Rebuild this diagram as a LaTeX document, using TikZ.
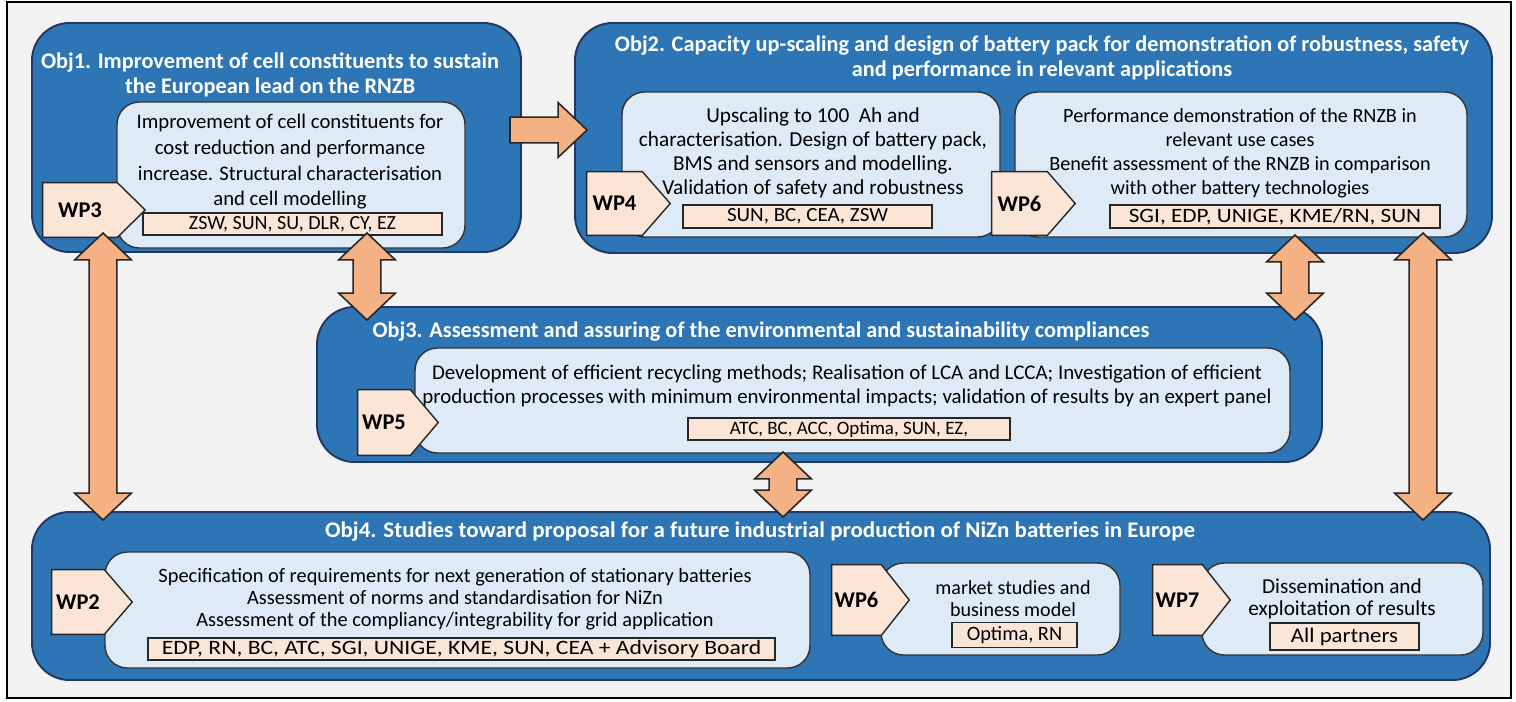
\documentclass[tikz,border=0pt]{standalone}
\usepackage{fontspec}
\setmainfont{Carlito}
\usetikzlibrary{calc,fit}
\definecolor{pagebg}{RGB}{242,242,242}
\definecolor{objblue}{RGB}{46,117,182}
\definecolor{objline}{RGB}{31,56,100}
\definecolor{innerblue}{RGB}{222,235,247}
\definecolor{peach}{RGB}{251,229,214}
\definecolor{arrowfill}{RGB}{244,177,131}
% one pixel of the sketch
\newcommand\pxu{0.5669pt}
% font size and line spacing, optionally stretched
\newcommand\fs[2]{\fontsize{#1}{#2}\selectfont}
\newcommand\fsx[3]{\fontsize{#2}{#3}\selectfont\addfontfeatures{FakeStretch=#1}}
% pentagon tag: name, top left, bottom right, label
\newcommand\wptag[4]{%
  \node[tagbody, fit={#2 #3}] (#1) {};
  \draw[tagline] (#1.north west) -- (#1.north east) -- ([xshift=28*\pxu]#1.east)
    -- (#1.south east) -- (#1.south west) -- cycle;
  \node[wplabel] (#1-l) at (#1.center) {#4};}
% vertical double block arrow: top tip, bottom tip
\newcommand\dblarrow[2]{%
  \draw[blockarrow] let \p1=#1, \p2=#2 in
    (\p1) -- (\x1+28.5*\pxu,\y1-27*\pxu) -- (\x1+14*\pxu,\y1-27*\pxu)
    -- (\x2+14*\pxu,\y2+27*\pxu) -- (\x2+28.5*\pxu,\y2+27*\pxu) -- (\p2)
    -- (\x2-28.5*\pxu,\y2+27*\pxu) -- (\x2-14*\pxu,\y2+27*\pxu)
    -- (\x1-14*\pxu,\y1-27*\pxu) -- (\x1-28.5*\pxu,\y1-27*\pxu) -- cycle;}
% horizontal block arrow: tail, tip
\newcommand\sglarrow[2]{%
  \draw[blockarrow] let \p1=#1, \p2=#2 in
    (\x1,\y1+13*\pxu) -- (\x2-29*\pxu,\y1+13*\pxu) -- (\x2-29*\pxu,\y1+27.5*\pxu)
    -- (\p2) -- (\x2-29*\pxu,\y2-27.5*\pxu) -- (\x2-29*\pxu,\y2-13*\pxu)
    -- (\x1,\y1-13*\pxu) -- cycle;}
\begin{document}
\begin{tikzpicture}[x=0.02cm, y=-0.02cm,
  objbox/.style={fill=objblue, draw=objline, line width=1.1pt, rounded corners=0.75cm, inner sep=0pt},
  innerbox/.style={fill=innerblue, draw=black!80, line width=0.8pt, rounded corners=0.45cm, inner sep=0pt},
  partner/.style={fill=peach, draw=black!85, line width=0.8pt, inner sep=0pt, font=\fs{11.4}{12}},
  tagbody/.style={inner sep=0pt},
  tagline/.style={fill=peach, draw=black!85, line width=0.8pt},
  objtitle/.style={text=white, font=\bfseries\fs{12.7}{14.2}, align=center},
  body/.style={font=\fs{11.8}{14.6}, align=center},
  wplabel/.style={font=\bfseries\fs{12.8}{13}},
  blockarrow/.style={fill=arrowfill, draw=black!85, line width=0.9pt}]
  \useasboundingbox (0,0) rectangle (1516,701);
  \fill[white] (0,0) rectangle (1516,701);
  \draw[fill=pagebg, line width=0.8pt] (7,2) rectangle (1511,698);

  % Obj1
  \node[objbox, fit={(32,23) (521,252)}] (obj1) {};
  \node[objtitle] (obj1-t) at (270,75) {Obj1. Improvement of cell constituents to sustain\\the European lead on the RNZB};
  \node[innerbox, fit={(117,102) (465,248)}] (wp3-box) {};
  \node[body] (wp3-txt) at (290,162) {Improvement of cell constituents for\\cost reduction and performance\\increase. Structural characterisation\\and cell modelling};
  \node[partner, minimum width=5.98cm, minimum height=0.44cm] (wp3-p) at (292.5,224) {ZSW, SUN, SU, DLR, CY, EZ};
  \wptag{wp3}{(43,183)}{(117,237)}{WP3}

  % Obj2
  \node[objbox, fit={(575,23) (1492,253)}] (obj2) {};
  \node[objtitle] (obj2-t) at (1042,58) {Obj2. Capacity up-scaling and design of battery pack for demonstration of robustness, safety\\and performance in relevant applications};
  \node[innerbox, fit={(622,92) (1000,237)}] (wp4-box) {};
  \node[body, font=\fs{12.1}{13.6}] (wp4-txt) at (813,153) {Upscaling to 100~ Ah and\\characterisation. Design of battery pack,\\BMS and sensors and modelling.\\Validation of safety and robustness};
  \node[partner, minimum width=4.98cm, minimum height=0.46cm, font=\fsx{1.05}{11.4}{12}] (wp4-p) at (807.5,216.5) {SUN, BC, CEA, ZSW};
  \wptag{wp4}{(587,172)}{(642,235)}{WP4}
  \node[innerbox, fit={(1015,92) (1467,237)}] (wp6-box) {};
  \node[body, font=\fs{11.5}{13.6}] (wp6-txt) at (1240,153) {Performance demonstration of the RNZB in\\relevant use cases\\Benefit assessment of the RNZB in comparison\\with other battery technologies};
  \node[partner, minimum width=6.6cm, minimum height=0.46cm, font=\fsx{1.14}{11.6}{12}] (wp6-p) at (1275,216.5) {SGI, EDP, UNIGE, KME/RN, SUN};
  \wptag{wp6}{(992,172)}{(1047,235)}{WP6}

  % Obj3
  \node[objbox, fit={(317,307) (1322,462)}] (obj3) {};
  \node[objtitle] (obj3-t) at (761,332) {Obj3. Assessment and assuring of the environmental and sustainability compliances};
  \node[innerbox, fit={(415,348) (1290,453)}] (wp5-box) {};
  \node[body, font=\fs{11.9}{13.6}] (wp5-txt) at (847,386) {Development of efficient recycling methods; Realisation of LCA and LCCA; Investigation of efficient\\production processes with minimum environmental impacts; validation of results by an expert panel};
  \node[partner, minimum width=6.44cm, minimum height=0.44cm, font=\fs{10.8}{12}] (wp5-p) at (849,429) {ATC, BC, ACC, Optima, SUN, EZ,};
  \wptag{wp5}{(358,390)}{(410,455)}{WP5}

  % Obj4
  \node[objbox, fit={(32,512) (1490,680)}] (obj4) {};
  \node[objtitle, font=\bfseries\fsx{1.03}{12.7}{14.2}] (obj4-t) at (760,532) {Obj4. Studies toward proposal for a future industrial production of NiZn batteries in Europe};
  \node[innerbox, fit={(105,552) (810,668)}] (wp2-box) {};
  \node[body, font=\fs{11.6}{12.6}] (wp2-txt) at (455,599) {Specification of requirements for next generation of stationary batteries\\Assessment of norms and standardisation for NiZn\\Assessment of the compliancy/integrability for grid application};
  \node[partner, minimum width=12.54cm, minimum height=0.44cm, font=\fsx{1.16}{11.6}{12}] (wp2-p) at (461.5,649) {EDP, RN, BC, ATC, SGI, UNIGE, KME, SUN, CEA + Advisory Board};
  \wptag{wp2}{(52,570)}{(104,634)}{WP2}
  \node[innerbox, fit={(881,563) (1120,655)}] (wp6b-box) {};
  \node[body, font=\fs{11.4}{12.6}] (wp6b-txt) at (1013,599) {market studies and\\business model};
  \node[partner, minimum width=2.5cm, minimum height=0.5cm, font=\fs{11.6}{12}] (wp6b-p) at (1014.5,635) {Optima, RN};
  \wptag{wp6b}{(832,565)}{(881,635)}{WP6}
  \node[innerbox, fit={(1202,563) (1483,655)}] (wp7-box) {};
  \node[body, font=\fs{12.1}{12.6}] (wp7-txt) at (1342,599) {Dissemination and\\exploitation of results};
  \node[partner, minimum width=2.98cm, minimum height=0.54cm, font=\fsx{1.1}{11.8}{12}] (wp7-p) at (1344.5,636.5) {All partners};
  \wptag{wp7}{(1153,565)}{(1202,635)}{WP7}

  % Links between the objectives
  \coordinate (a12-tail) at (510,130);
  \coordinate (a12-tip) at (587,130);
  \coordinate (a14-top) at (103,233);
  \coordinate (a14-bot) at (103,520);
  \coordinate (a13-top) at (367,233);
  \coordinate (a13-bot) at (367,320);
  \coordinate (a23-top) at (1295,235);
  \coordinate (a23-bot) at (1295,320);
  \coordinate (a34-top) at (783,452);
  \coordinate (a34-bot) at (783,517);
  \coordinate (a24-top) at (1423,233);
  \coordinate (a24-bot) at (1423,520);
  \sglarrow{(a12-tail)}{(a12-tip)}
  \dblarrow{(a14-top)}{(a14-bot)}
  \dblarrow{(a13-top)}{(a13-bot)}
  \dblarrow{(a23-top)}{(a23-bot)}
  \dblarrow{(a34-top)}{(a34-bot)}
  \dblarrow{(a24-top)}{(a24-bot)}
\end{tikzpicture}
\end{document}
